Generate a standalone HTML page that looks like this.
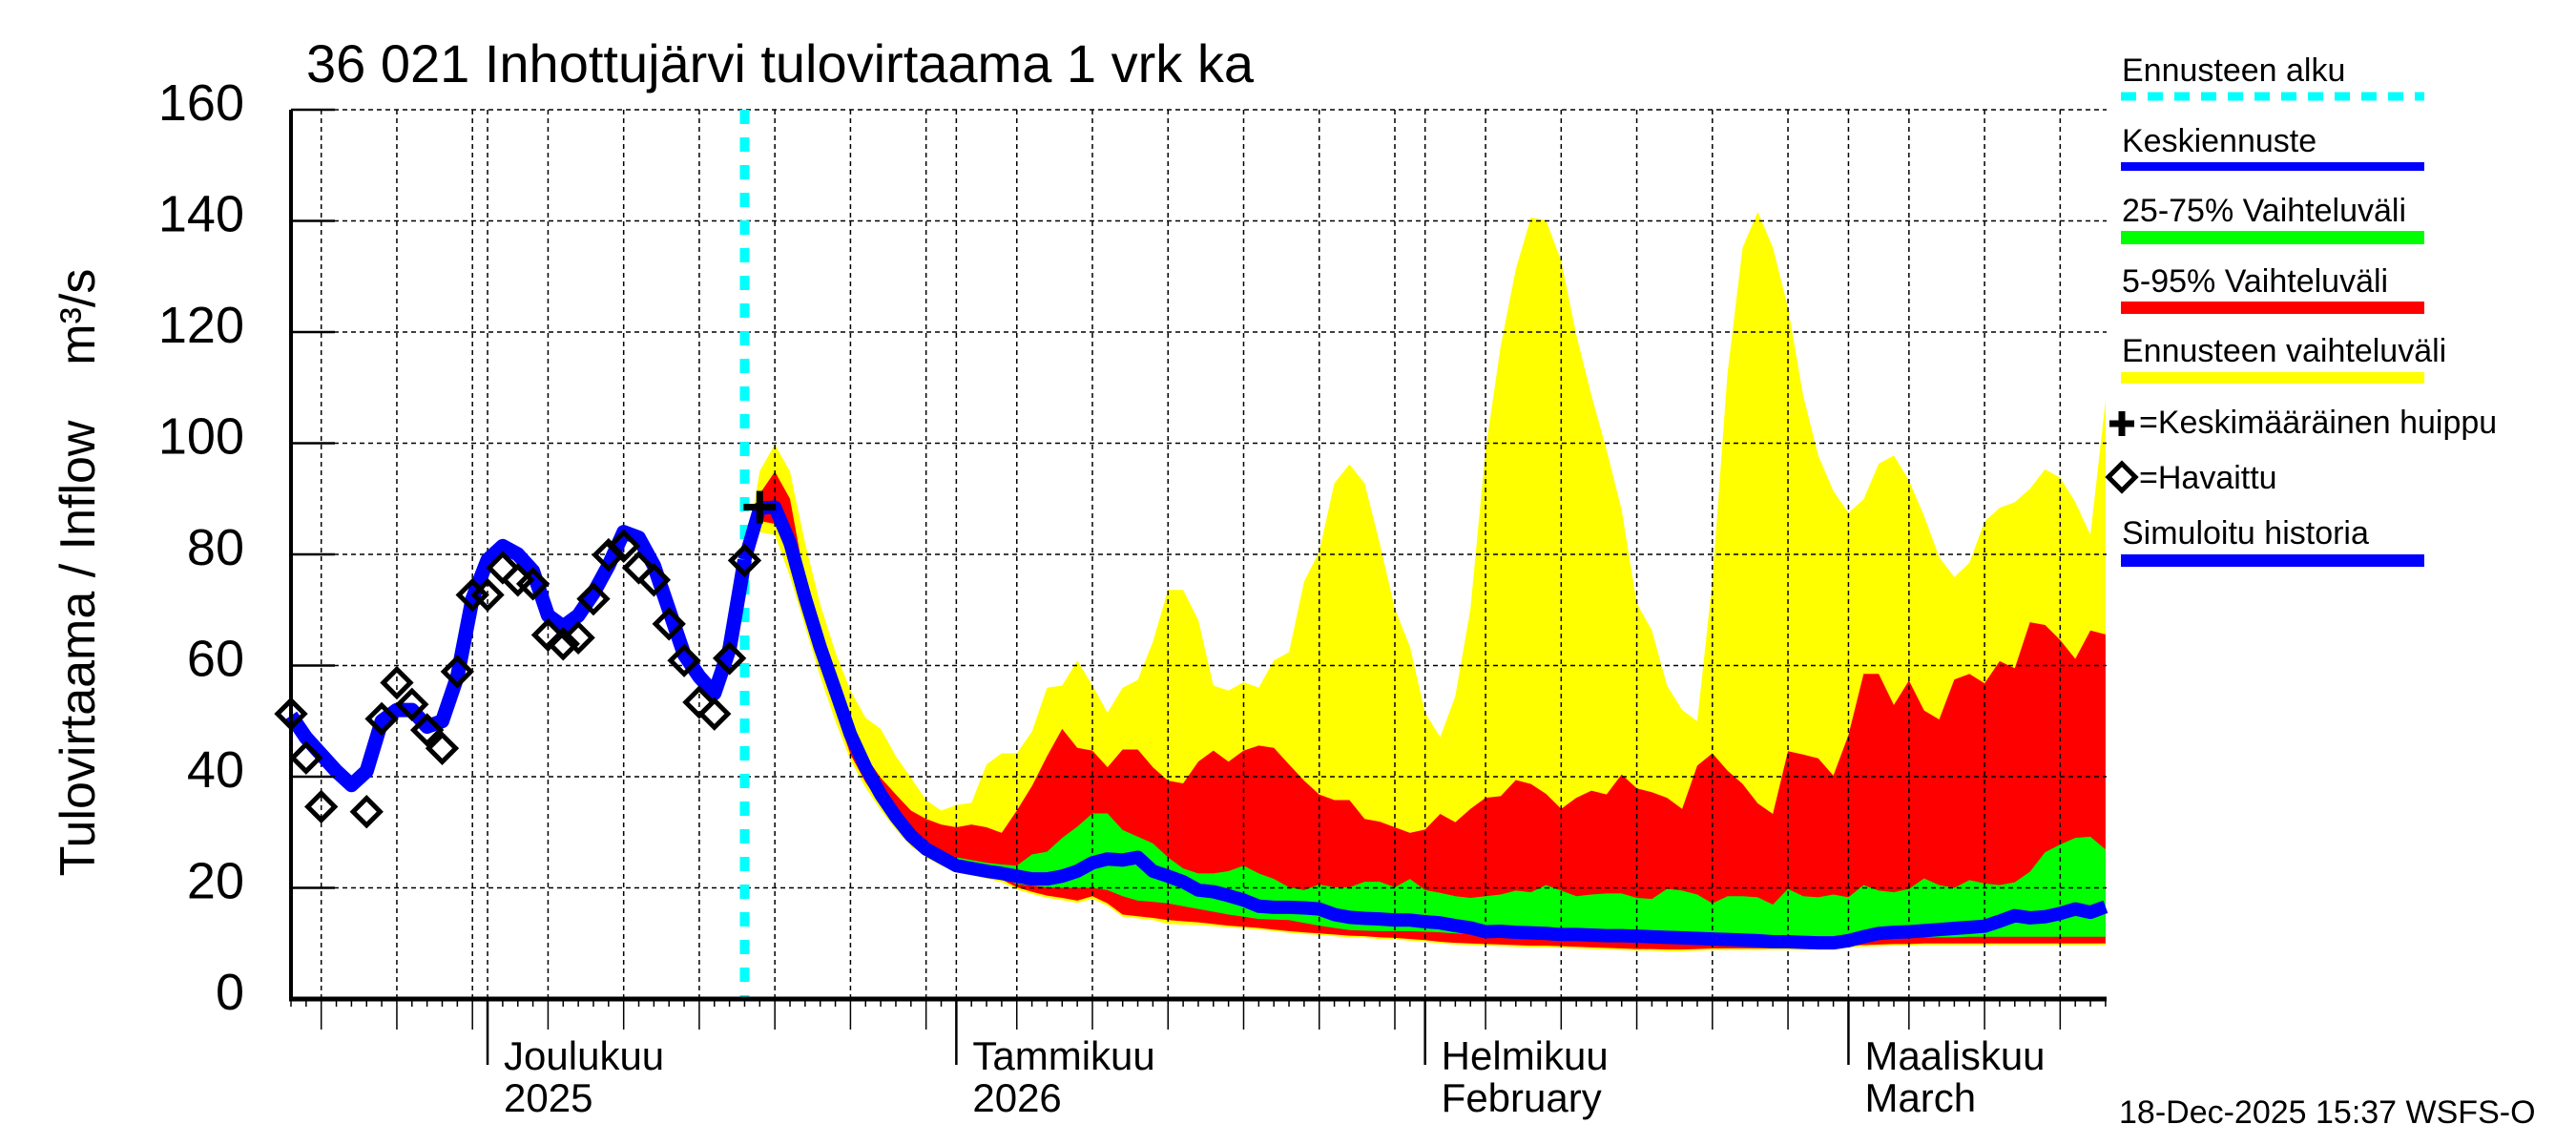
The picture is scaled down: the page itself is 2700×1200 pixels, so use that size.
<!DOCTYPE html>
<html><head><meta charset="utf-8"><style>
html,body{margin:0;padding:0;background:#fff;}
svg{display:block;font-family:"Liberation Sans",Arial,sans-serif;}
</style></head><body>
<svg id="chart" xmlns="http://www.w3.org/2000/svg" width="2700" height="1200" viewBox="0 0 2700 1200">
<rect x="0" y="0" width="2700" height="1200" fill="#fff"/>
<g id="bands"></g>
<g id="grid"></g>
<g id="lines"></g>
<g id="axes"></g>
<text x="321" y="86" font-size="56">36 021 Inhottujärvi tulovirtaama 1 vrk ka</text>
<text transform="translate(99,600) rotate(-90)" font-size="52" text-anchor="middle">Tulovirtaama / Inflow&#160;&#160;&#160;&#160;m³/s</text>
<text x="2221" y="1177" font-size="34">18-Dec-2025 15:37 WSFS-O</text>
<g font-size="34">
  <text x="2224" y="85">Ennusteen alku</text>
  <line x1="2223" y1="101" x2="2541" y2="101" stroke="#00ffff" stroke-width="9" stroke-dasharray="16,12"/>
  <text x="2224" y="159">Keskiennuste</text>
  <rect x="2223" y="170" width="318" height="9" fill="#0000ff"/>
  <text x="2224" y="232">25-75% Vaihteluväli</text>
  <rect x="2223" y="242" width="318" height="14" fill="#00ff00"/>
  <text x="2224" y="306">5-95% Vaihteluväli</text>
  <rect x="2223" y="316" width="318" height="13" fill="#ff0000"/>
  <text x="2224" y="379">Ennusteen vaihteluväli</text>
  <rect x="2223" y="390" width="318" height="12" fill="#ffff00"/>
  <path d="M2211,444 h26 M2224,431 v26" stroke="#000" stroke-width="7"/>
  <text x="2242" y="454">=Keskimääräinen huippu</text>
  <rect x="2214" y="490" width="20" height="20" fill="none" stroke="#000" stroke-width="5" transform="rotate(45 2224 500)"/>
  <text x="2242" y="512">=Havaittu</text>
  <text x="2224" y="570">Simuloitu historia</text>
  <rect x="2223" y="581" width="318" height="13" fill="#0000ff"/>
</g>
</svg>
<script>
const yTicks = [0,20,40,60,80,100,120,140,160];
const monthNames = ['Joulukuu','Tammikuu','Helmikuu','Maaliskuu'];
const monthSub = ['2025','2026','February','March'];
const obsDays = [0,1,2,5,6,7,8,9,10,11,12,13,14,15,16,17,18,19,20,21,22,23,24,25,26,27,28,29,30];
const obsVals = [51.3,43.4,34.6,33.7,50.4,56.9,53,48.4,45.1,58.9,72.7,72.7,77.6,75.4,74.7,65.5,63.9,65,72,79.9,81.5,77.6,75.4,67.5,60.9,53.4,51.3,61.3,78.9];
const simVals = [51,47,44,41,38.5,41,50,52,52,49,50,58,72,79,81.5,80,77,69,67,69,73,78,84,83,78,70,62,58,55,63,79];
const fStart = 30;
const peakDay = 31;
const peakVal = 88.5;
const forecastStartDay = 30;
const medianVals = [79,88.3,88.5,82.1,72.2,63.3,55.5,47.6,41.7,36.8,32.8,29.4,27,25.5,24,23.5,23,22.6,22.1,21.6,21.6,22.1,23,24.5,25.2,25,25.5,23,22.1,21.1,19.6,19.3,18.6,17.8,16.7,16.5,16.5,16.4,16.2,15.2,14.7,14.5,14.4,14.2,14.2,13.9,13.7,13.2,
 12.8,12.1,12.2,12.0,11.9,11.8,11.6,11.6,11.5,11.4,11.4,11.3,11.2,11.1,11.0,10.9,10.8,10.7,10.6,10.5,10.3,10.3,10.2,10.1,10.1,10.5,11.2,11.8,12.0,12.1,12.3,12.5,12.7,12.9,13.1,14.0,15,14.6,14.8,15.4,16.2,15.6,16.6];
const yelUp = [79,95,99.8,94.9,82,71,62.4,55.5,50.6,48.6,43.7,39.8,35.8,33.9,34.9,35.3,42.2,44.2,44.2,48.1,56,56.4,60.9,56.4,51.5,56,57.4,64.3,73.6,73.6,68.2,56.4,55.5,57,56,60.9,62.4,75.1,80.5,92.8,96.2,92.8,82,70.2,63.4,51.5,47.1,54.5,
 70.2,98.8,117.5,131.3,140.6,140.1,132.8,119.5,108.6,98.8,88,71.2,66.3,56.4,52,50,75.2,112.6,135.2,141.6,135.2,124.4,108.6,97.8,91.4,87.5,89.9,96.3,97.8,93.3,86.9,79.5,75.9,78.5,85.9,88.4,89.4,91.8,95.3,93.8,89.4,83.5,107.6];
const redUp = [79,90.9,94.9,90,75.2,65.3,56.4,49.5,43.7,39.8,36.8,33.9,32.4,31.4,30.9,31.4,30.9,29.9,33.9,38.3,43.7,48.6,45.2,44.7,41.7,44.9,44.9,41.7,39.3,38.8,42.7,44.7,42.7,44.7,45.6,45.2,42.2,39.3,36.8,35.8,35.8,32.4,31.9,30.9,29.9,30.5,33.3,31.8,
 34.2,36.2,36.5,39.4,38.7,36.9,34.2,36.2,37.5,36.8,40.4,37.9,37.2,36.2,34.2,42,44.2,41.1,38.7,35.2,33.3,44.6,44,43.3,40.2,47.5,58.5,58.5,52.9,57.3,51.9,50.3,57.5,58.5,56.8,60.8,59.5,67.8,67.3,64.6,61.2,66.3,65.6];
const greenUp = [79,88.8,89,82.6,72.7,63.8,56,48.1,42.2,37.3,33.3,29.9,27.5,26,25.5,25,24.5,24.2,24,26,26.5,29,31,33.4,33.4,30.4,29.2,28,25.5,23.5,22.6,22.6,23,24,22.6,21.6,20.1,19.6,20.6,20.1,20.1,21.1,21.1,20.1,21.6,19.6,19.1,18.5,
 18.2,18.5,18.8,19.5,19.2,20.5,19.5,18.5,18.8,19,19,18.2,18,19.8,19.5,18.8,17.2,18.5,18.5,18.3,17,19.8,18.5,18.3,18.8,18.3,20.5,19.5,19.2,19.8,21.7,20.5,20,21.4,20.8,20.5,21,22.9,26.4,27.8,29,29.2,26.9];
const greenLo = [79,87.5,87.8,81.5,71.5,62.5,54.5,46.8,41,36,32,28.8,26.3,24.8,23.4,22.8,22.3,21.8,20.7,20.4,20.1,20,20,20,19.6,18.5,17.7,17.5,17.2,16.7,16.2,15.7,15.2,14.8,14.4,14.3,14.2,13.7,13.2,12.8,12.4,12.3,12.2,12.2,12.2,12.1,12,11.8,
 11.7,11.6,11.5,11.4,11.3,11.2,11.1,11.0,11,11,10.9,10.9,10.9,10.8,10.8,10.7,10.7,10.6,10.6,10.6,10.6,10.6,10.6,10.6,10.7,10.8,10.9,11,11,11.1,11.1,11.1,11.1,11.2,11.2,11.2,11.2,11.2,11.2,11.2,11.2,11.2,11.2];
const redLo = [79,86,85.5,79,70,60,52,44,39,35,31,28,26,24.5,23.5,22.8,22.2,21.5,20.1,19.3,18.6,18.2,17.7,18.5,17.2,15.2,14.9,14.6,14.2,14,13.8,13.5,13.2,13,12.8,12.5,12.2,12,11.8,11.6,11.4,11.3,11.1,11,10.8,10.6,10.3,10.1,
 10,9.9,9.8,9.7,9.6,9.6,9.5,9.4,9.3,9.2,9.1,9.0,9.0,8.9,8.9,9.0,9.1,9.1,9.1,9.1,9.1,9.1,9.1,9.3,9.5,9.6,9.7,9.8,9.9,9.9,10,10,10,10,10,10,10,10,10,10,10,10,10];
const yelLo = [79,84,83.5,76,67,58,50,43,38,34,30.5,27.5,25.5,24,23,22.3,21.7,21,19.7,18.9,18.2,17.8,17.3,18,16.8,14.8,14.5,14.2,13.5,13.4,13.3,13.1,12.9,12.7,12.5,12.2,11.9,11.7,11.5,11.3,11.1,11,10.8,10.7,10.5,10.3,10,9.8,
 9.7,9.6,9.5,9.4,9.3,9.3,9.2,9.1,9,8.9,8.8,8.7,8.7,8.6,8.6,8.7,8.8,8.8,8.8,8.8,8.8,8.8,8.8,9,9.2,9.3,9.4,9.5,9.6,9.6,9.7,9.7,9.7,9.7,9.7,9.7,9.7,9.7,9.7,9.7,9.7,9.7,9.7];

const NS='http://www.w3.org/2000/svg';
const L=305,R=2208,T=115,B=1047,totalDays=120.07;
const X=d=>L+(d/totalDays)*(R-L);
const Y=v=>B-(v/160)*(B-T);
function mk(tag,attrs,parent){const e=document.createElementNS(NS,tag);for(const k in attrs)e.setAttribute(k,attrs[k]);parent.appendChild(e);return e;}
const gB=document.getElementById('bands'),gG=document.getElementById('grid'),gL=document.getElementById('lines'),gA=document.getElementById('axes');

function band(up,lo,color,name){
  const pts=[];
  up.forEach((v,i)=>pts.push(X(fStart+i)+','+Y(v)));
  for(let i=lo.length-1;i>=0;i--)pts.push(X(fStart+i)+','+Y(lo[i]));
  const p=mk('polygon',{points:pts.join(' '),fill:color},gB);
  
  
}
band(yelUp,yelLo,'#ffff00','band-range');
band(redUp,redLo,'#ff0000','band-5-95');
band(greenUp,greenLo,'#00ff00','band-25-75');

yTicks.forEach(v=>{
  if(v>0){const g=mk('line',{x1:L,x2:R,y1:Y(v),y2:Y(v),stroke:'#000','stroke-width':1.5,'stroke-dasharray':'5,4'},gG);
  
  }
  mk('line',{x1:L,x2:L+46,y1:Y(v),y2:Y(v),stroke:'#000','stroke-width':2.5},gA);
  const t=mk('text',{x:256,y:Y(v)+11,'font-size':54,'text-anchor':'end'},gA);
  t.textContent=v;
  
  
});

const base=Date.UTC(2025,10,18);
let mi=0;
for(let d=0;d<=120;d++){
  const dt=new Date(base+d*86400000);const dom=dt.getUTCDate();
  const x=X(d);
  const isGrid=[5,10,15,20,25,30].includes(dom);
  const isMonth=dom===1;
  if(isGrid||isMonth){
    const g=mk('line',{x1:x,x2:x,y1:T,y2:B,stroke:'#000','stroke-width':1.5,'stroke-dasharray':'5,4'},gG);
    
    
  }
  const len=isMonth?69:(isGrid?32:8);
  mk('line',{x1:x,x2:x,y1:B,y2:B+len,stroke:'#000','stroke-width':isMonth?2.5:1.5},gA);
  if(isMonth){
    const t1=mk('text',{x:x+17,y:1121,'font-size':42},gA);t1.textContent=monthNames[mi];
    
    
    const t2=mk('text',{x:x+17,y:1165,'font-size':42},gA);t2.textContent=monthSub[mi];
    
    
    mi++;
  }
}
mk('line',{x1:L,x2:L,y1:T,y2:B+2,stroke:'#000','stroke-width':4},gA);
mk('line',{x1:L-2,x2:R,y1:B,y2:B,stroke:'#000','stroke-width':5},gA);

const fs=mk('line',{x1:X(forecastStartDay),x2:X(forecastStartDay),y1:T,y2:B,stroke:'#00ffff','stroke-width':10,'stroke-dasharray':'15,14'},gL);



const sp=mk('polyline',{points:simVals.map((v,i)=>X(i)+','+Y(v)).join(' '),fill:'none',stroke:'#0000ff','stroke-width':15,'stroke-linejoin':'round'},gL);


const mp=mk('polyline',{points:medianVals.map((v,i)=>X(fStart+i)+','+Y(v)).join(' '),fill:'none',stroke:'#0000ff','stroke-width':14,'stroke-linejoin':'round'},gL);



obsDays.forEach((d,i)=>{
  const x=X(d),y=Y(obsVals[i]);
  const r=mk('rect',{x:x-10,y:y-10,width:20,height:20,fill:'none',stroke:'#000','stroke-width':5,transform:`rotate(45 ${x} ${y})`},gL);
  
  
});
const px=X(peakDay),py=Y(peakVal);
const pk=mk('path',{d:`M${px-17},${py} h34 M${px},${py-17} v34`,stroke:'#000','stroke-width':7},gL);


</script>
</body></html>
